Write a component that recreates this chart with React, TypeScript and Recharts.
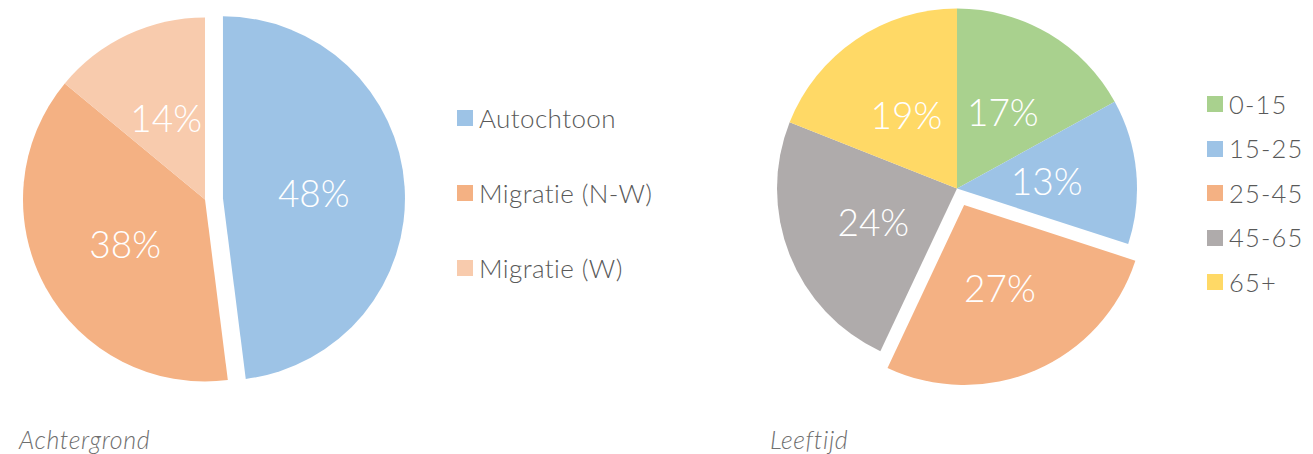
import React from 'react';
import { PieChart, Pie, Cell, Legend } from 'recharts';

const FONT = 'Lato, "Open Sans", sans-serif';

const backgroundNames = ['Autochtoon', 'Migratie (N-W)', 'Migratie (W)'];
const backgroundValues = [48, 38, 14];
const backgroundColors = ['#9DC3E6', '#F4B183', '#F8CBAD'];
const backgroundExploded = 0;
const backgroundTitle = 'Achtergrond';

const ageNames = ['0-15', '15-25', '25-45', '45-65', '65+'];
const ageValues = [17, 13, 27, 24, 19];
const ageColors = ['#A9D18E', '#9DC3E6', '#F4B183', '#AFABAB', '#FFD966'];
const ageExploded = 2;
const ageTitle = 'Leeftijd';

const RAD = Math.PI / 180;

function explodeShift(values: number[], index: number, dist: number) {
  const total = values.reduce((a, b) => a + b, 0);
  const before = values.slice(0, index).reduce((a, b) => a + b, 0);
  const mid = ((before + values[index] / 2) / total) * 360;
  return { dx: dist * Math.sin(mid * RAD), dy: -dist * Math.cos(mid * RAD) };
}

function makeLabel(show: (i: number) => boolean, values: number[]) {
  return (props: any) => {
    const { cx, cy, midAngle, outerRadius, index } = props;
    if (!show(index)) return <g />;
    const r = outerRadius * 0.5;
    const x = cx + r * Math.cos(-midAngle * RAD);
    const y = cy + r * Math.sin(-midAngle * RAD);
    return (
      <text
        x={x}
        y={y}
        fill="#ffffff"
        textAnchor="middle"
        dominantBaseline="central"
        fontSize={37}
        fontWeight={300}
        fontFamily={FONT}
      >
        {values[index]}%
      </text>
    );
  };
}

function LegendList({
  names,
  colors,
  rowHeight,
  spacing,
  fontSize,
}: {
  names: string[];
  colors: string[];
  rowHeight: number;
  spacing: number;
  fontSize: number;
}) {
  return (
    <div>
      {names.map((n, i) => (
        <div key={n} style={{ height: rowHeight, display: 'flex', alignItems: 'center' }}>
          <span style={{ width: 16, height: 16, background: colors[i], marginRight: 6, flex: 'none' }} />
          <span
            style={{
              fontSize,
              fontWeight: 300,
              color: '#595959',
              fontFamily: FONT,
              lineHeight: 1,
              whiteSpace: 'nowrap',
              letterSpacing: spacing,
            }}
          >
            {n}
          </span>
        </div>
      ))}
    </div>
  );
}

type ExplodedPieProps = {
  names: string[];
  values: number[];
  colors: string[];
  exploded: number;
  width: number;
  height: number;
  cx: number;
  cy: number;
  r: number;
  legendLeft: number;
  legendTop: number;
  rowHeight: number;
  spacing: number;
  fontSize: number;
};

function ExplodedPie(p: ExplodedPieProps) {
  const data = p.names.map((name, i) => ({ name, value: p.values[i] }));
  const { dx, dy } = explodeShift(p.values, p.exploded, 18);
  return (
    <PieChart width={p.width} height={p.height} margin={{ top: 0, right: 0, bottom: 0, left: 0 }}>
      <Pie
        data={data}
        dataKey="value"
        nameKey="name"
        cx={p.cx}
        cy={p.cy}
        outerRadius={p.r}
        startAngle={90}
        endAngle={-270}
        stroke="none"
        isAnimationActive={false}
        labelLine={false}
        label={makeLabel((i) => i !== p.exploded, p.values)}
        legendType="square"
      >
        {data.map((d, i) => (
          <Cell key={d.name} fill={i === p.exploded ? 'none' : p.colors[i]} />
        ))}
      </Pie>
      <Pie
        data={data}
        dataKey="value"
        nameKey="name"
        cx={p.cx + dx}
        cy={p.cy + dy}
        outerRadius={p.r}
        startAngle={90}
        endAngle={-270}
        stroke="none"
        isAnimationActive={false}
        labelLine={false}
        label={makeLabel((i) => i === p.exploded, p.values)}
        legendType="none"
      >
        {data.map((d, i) => (
          <Cell key={d.name} fill={i === p.exploded ? p.colors[i] : 'none'} />
        ))}
      </Pie>
      <Legend
        layout="vertical"
        align="right"
        verticalAlign="top"
        wrapperStyle={{ left: p.legendLeft, top: p.legendTop, width: 260 }}
        content={() => (
          <LegendList
            names={p.names}
            colors={p.colors}
            rowHeight={p.rowHeight}
            spacing={p.spacing}
            fontSize={p.fontSize}
          />
        )}
      />
    </PieChart>
  );
}

export default function App() {
  return (
    <div style={{ position: 'absolute', left: 0, top: 0, width: 1313, height: 454, background: '#ffffff' }}>
      <div style={{ position: 'absolute', left: 0, top: 0 }}>
        <ExplodedPie
          names={backgroundNames}
          values={backgroundValues}
          colors={backgroundColors}
          exploded={backgroundExploded}
          width={700}
          height={454}
          cx={205}
          cy={199.5}
          r={182}
          legendLeft={457}
          legendTop={80.5}
          rowHeight={75}
          spacing={0.4}
          fontSize={26}
        />
      </div>
      <div style={{ position: 'absolute', left: 700, top: 0 }}>
        <ExplodedPie
          names={ageNames}
          values={ageValues}
          colors={ageColors}
          exploded={ageExploded}
          width={613}
          height={454}
          cx={257}
          cy={188.5}
          r={180}
          legendLeft={507}
          legendTop={82}
          rowHeight={44.5}
          spacing={1.2}
          fontSize={25.5}
        />
      </div>
      <svg width={1313} height={454} style={{ position: 'absolute', left: 0, top: 0, pointerEvents: 'none' }}>
        <text x={19} y={449} fontSize={25} fontWeight={300} fontStyle="italic" fill="#6f6f6f" fontFamily={FONT} letterSpacing={0.6}>
          {backgroundTitle}
        </text>
        <text x={770} y={449} fontSize={25} fontWeight={300} fontStyle="italic" fill="#6f6f6f" fontFamily={FONT} letterSpacing={0.6}>
          {ageTitle}
        </text>
      </svg>
    </div>
  );
}
